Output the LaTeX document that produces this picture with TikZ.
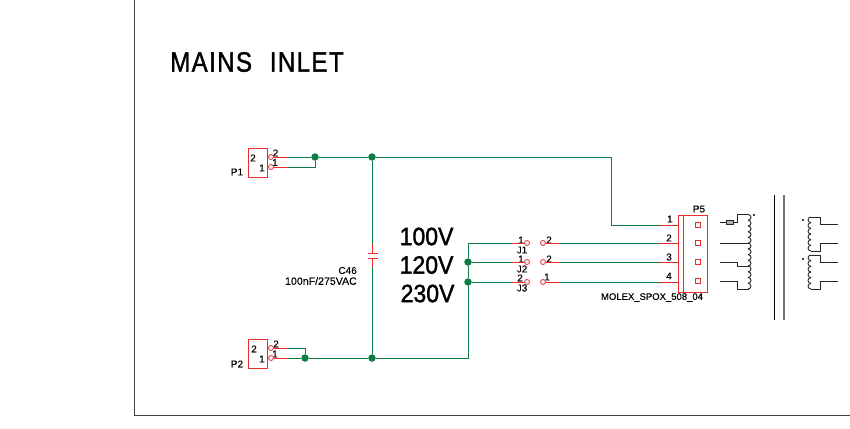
\documentclass[tikz,border=0pt]{standalone}
\usepackage{fontspec}
\setmainfont{Liberation Sans}
\newfontfamily\titlefont[FakeStretch=.86,FakeBold=1.2,LetterSpace=5,WordSpace=2.2]{Liberation Sans}
\newfontfamily\voltfont[FakeStretch=.92,FakeBold=1.5]{Liberation Sans}
\newfontfamily\lblfont[FakeBold=.1]{Liberation Sans}
\definecolor{wiregreen}{HTML}{0B7D45}
\definecolor{partred}{HTML}{EE2A2A}

\begin{document}
\begin{tikzpicture}[x=1pt,y=-1pt]
        \tikzstyle{every node} = [inner sep=0pt]
        \tikzstyle{wire} = [wiregreen,line width=.9pt]
        \tikzstyle{lead} = [partred,line width=.9pt]
        \tikzstyle{dot} = [circle,fill=wiregreen,minimum size=7.5pt]
        \tikzstyle{pin} = [circle,draw=partred,fill=white,line width=.8pt,minimum size=5pt]
        \tikzstyle{pad} = [rectangle,draw=partred,line width=.8pt,minimum size=5pt]
        \tikzstyle{lbl} = [font=\lblfont\fontsize{10}{10}\selectfont]
        \tikzstyle{volt} = [font=\voltfont\fontsize{25}{25}\selectfont,anchor=west]
        \tikzstyle{coilwire} = [black!85,line width=.9pt]
        \useasboundingbox (0,0) rectangle (850,428);

        % frame
        \coordinate (ftop) at (134,0);
        \coordinate (fcorner) at (134,415);
        \coordinate (fend) at (850,415);
        \draw[black!75,line width=1pt] (ftop) -- (fcorner) -- (fend);
        \node[font=\titlefont\fontsize{28}{28}\selectfont,anchor=west] (title) at (170,62) {MAINS INLET};

        % connectors P1, P2
        \draw[lead] (248,148) rectangle (267,177);
        \draw[lead] (248,339) rectangle (267,368);
        \node[lbl] (p1) at (237,172) {P1};
        \node[lbl] (p2) at (237,364) {P2};
        \foreach \name/\x/\y/\t in {p1a/253/158/2, p1b/262/168/1, p2a/254/349/2, p2b/262/359/1,
                p1c/275.5/153/2, p1d/275/162.5/1, p2c/276/344/2, p2d/275/354/1,
                j1a/521/240/1, j1b/522/250/J1, j1c/549/240/2, j2a/521/259/1, j2b/522/269/J2, j2c/549/259/2,
                j3a/520/278/2, j3b/522/288/J3, j3c/547/277/1, p5a/699/209/P5,
                n1/670/219/1, n2/669/238/2, n3/669/257/3, n4/669/276/4}
            \node[lbl] (\name) at (\x,\y) {\t};

        % nodes of the net
        \foreach \name/\x/\y in {d1/315/157, d2/372/157, d3/372/358, d4/305/358, d5/468/262, d6/468/282}
            \node[dot] (\name) at (\x,\y) {};
        \foreach \name/\x/\y in {pa/271/157, pb/271/167, pc/271/348, pd/271/358,
                ja/527/243, jb/527/262, jc/527/282, ka/543/243, kb/543/262, kc/543/282}
            \node[pin] (\name) at (\x,\y) {};
        \foreach \name/\x/\y in {a/287/157, b/287/167, c/287/348, e/287/358, f/511/243, g/511/262, h/511/282,
                i/559/243, k/559/262, l/559/282, m/659/225, n/659/243, o/659/262, q/659/282,
                r/678/225, s/678/243, t/678/262, u/678/282, v/611/157, w/611/225, x/315/167,
                y/305/348, z/468/358, aa/468/243, ca/372/244, cb/372/267, cc/372/253.5, cd/372/258}
            \coordinate (\name) at (\x,\y);

        % red leads
        \foreach \from/\to in {pa/a, pb/b, pc/c, pd/e, ja/f, jb/g, jc/h, ka/i, kb/k, kc/l, m/r, n/s, o/t, q/u, ca/cc, cb/cd}
            \draw[lead] (\from) -- (\to);

        % green wires
        \draw[wire] (a) -- (d1) -- (d2) -- (v) -- (w) -- (m);
        \draw[wire] (b) -- (x) -- (d1);
        \draw[wire] (c) -- (y) -- (d4);
        \draw[wire] (e) -- (d4) -- (d3) -- (z) -- (d6) -- (d5) -- (aa) -- (f);
        \draw[wire] (d5) -- (g);
        \draw[wire] (d6) -- (h);
        \draw[wire] (d2) -- (ca);
        \draw[wire] (cb) -- (d3);
        \foreach \from/\to in {i/n, k/o, l/q}
            \draw[wire] (\from) -- (\to);

        % capacitor
        \draw[lead] (367.5,253.5) -- (378,253.5);
        \draw[lead] (367.5,258) -- (378,258);
        \node[lbl,anchor=east] (c46) at (357,270.5) {C46};
        \node[lbl,anchor=east] (c46v) at (357,281) {\fontsize{10.6}{11}\selectfont 100nF/275VAC};

        % voltages
        \node[volt] (v100) at (399.5,236.5) {100V};
        \node[volt] (v120) at (399.5,265) {120V};
        \node[volt] (v230) at (400.5,293.5) {230V};

        % P5
        \draw[lead] (678,215) rectangle (707,292);
        \draw[lead] (683,215) -- (683,292);
        \foreach \name/\y in {pa5/225, pb5/243, pc5/262, pd5/281}
            \node[pad] (\name) at (698,\y) {};
        \node[lbl] (molex) at (652,297.5) {\fontsize{9.5}{10}\selectfont MOLEX\_SPOX\_508\_04};

        % transformer
        \draw[coilwire] (720,222.5) -- (726,222.5);
        \draw[coilwire,fill=black!30] (726,220.5) rectangle (733,224.5);
        \draw[coilwire] (733,222.5) -- (737,222.5) -- (737,214.5) -- (748,214.5);
        \draw[coilwire] (720,243) -- (749,243);
        \draw[coilwire] (720,262) -- (737,262) -- (737,266.5) -- (749,266.5);
        \draw[coilwire] (720,281.5) -- (737,281.5) -- (737,289) -- (749,289);
        \foreach \i in {0,...,12}
            \draw[coilwire] (748,214.5+\i*5.73) arc[start angle=90,end angle=-90,x radius=3pt,y radius=2.86pt];
        \draw[black,line width=.9pt] (774.5,195) -- (774.5,320);
        \draw[black!55,line width=1.2pt] (784,195) -- (784,320);
        \foreach \y in {217,255}
            \foreach \i in {0,...,5}
                \draw[coilwire] (811,\y+\i*5.67) arc[start angle=90,end angle=270,x radius=3pt,y radius=2.83pt];
        \draw[coilwire] (811,217) -- (820,217) -- (820,224.5) -- (838,224.5);
        \draw[coilwire] (811,251) -- (820,251) -- (820,243) -- (838,243);
        \draw[coilwire] (811,255) -- (820,255) -- (820,262) -- (838,262);
        \draw[coilwire] (811,289) -- (820,289) -- (820,281.5) -- (838,281.5);
        \foreach \x/\y in {754/215, 803/220, 803/259}
            \fill (\x,\y) circle (1.2pt);
      \end{tikzpicture}
\end{document}
